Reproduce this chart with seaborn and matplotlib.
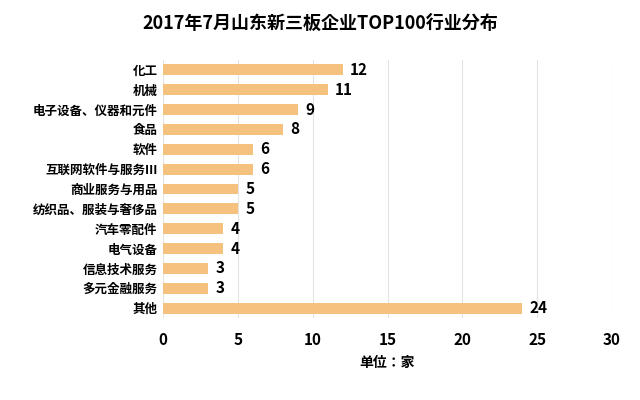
import matplotlib
matplotlib.use("Agg")
import matplotlib.pyplot as plt
from matplotlib import font_manager
import seaborn as sns
import pandas as pd

categories = ["化工", "机械", "电子设备、仪器和元件", "食品", "软件", "互联网软件与服务Ⅲ",
              "商业服务与用品", "纺织品、服装与奢侈品", "汽车零配件", "电气设备",
              "信息技术服务", "多元金融服务", "其他"]
values = [12, 11, 9, 8, 6, 6, 5, 5, 4, 4, 3, 3, 24]
xticks = [0, 5, 10, 15, 20, 25, 30]

names = {f.name for f in font_manager.fontManager.ttflist}
cjk = [n for n in ["Noto Sans CJK SC", "Noto Sans CJK JP", "Noto Sans CJK TC", "Noto Sans CJK KR"] if n in names]
plt.rcParams["font.family"] = "sans-serif"
plt.rcParams["font.sans-serif"] = cjk + ["DejaVu Sans"]
df = pd.DataFrame({"cat": categories, "val": values})

fig = plt.figure(figsize=(6.4, 4.0), dpi=100)
ax = fig.add_axes([0.255, 0.205, 0.701, 0.645])
sns.barplot(data=df, x="val", y="cat", color="#F5C17E", width=0.55, ax=ax, saturation=1)
ax.set_xlim(0, 30)
ax.set_xticks(xticks)
ax.grid(axis="x", color="#E3E3E3", linewidth=0.8)
ax.set_axisbelow(True)
for s in ax.spines.values():
    s.set_visible(False)
ax.tick_params(length=0)
ax.tick_params(axis="x", labelsize=11, pad=10)
ax.tick_params(axis="y", labelsize=9, pad=4)
for lbl in ax.get_xticklabels() + ax.get_yticklabels():
    lbl.set_fontweight("bold")
for i, v in enumerate(values):
    ax.text(v + 0.5, i, str(v), va="center", ha="left", fontsize=11, fontweight="bold")
ax.set_ylabel("")
ax.set_xlabel("单位：家", fontsize=10, fontweight="bold", labelpad=6)
fig.suptitle("2017年7月山东新三板企业TOP100行业分布", fontsize=13, fontweight="bold", y=0.965)
fig.savefig("out.png", dpi=100)
